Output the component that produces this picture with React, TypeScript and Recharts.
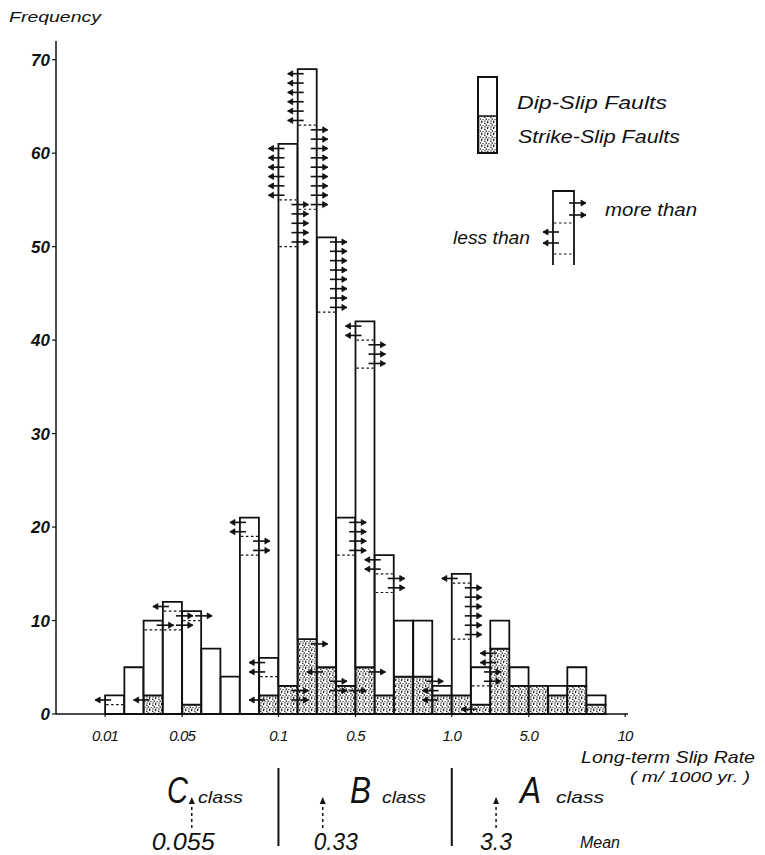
import { BarChart, Bar, XAxis, YAxis, Legend } from 'recharts'

// bin edges of the slip-rate classes (m/1000 yr.)
const binEdges = [0.01, 0.02, 0.03, 0.04, 0.05, 0.06, 0.07, 0.08, 0.09, 0.1, 0.2, 0.3, 0.4, 0.5, 0.6, 0.7, 0.8, 0.9, 1, 2, 3, 4, 5, 6, 7, 8, 9, 10]

// frequency per bin: all faults, and the strike-slip part of it
const allFaults = [2, 5, 10, 12, 11, 7, 4, 21, 6, 61, 69, 51, 21, 42, 17, 10, 10, 3, 15, 5, 10, 5, 3, 3, 5, 2, 0]
const strikeSlip = [0, 0, 2, 0, 1, 0, 0, 0, 2, 3, 8, 5, 3, 5, 2, 4, 4, 2, 2, 1, 7, 3, 3, 2, 3, 1, 0]

// "less than" / "more than" faults (arrows) in each part
const dipLess = [1, 0, 0, 1, 0, 0, 0, 2, 2, 6, 6, 0, 0, 2, 2, 0, 0, 1, 1, 0, 0, 0, 0, 0, 0, 0, 0]
const dipMore = [0, 0, 1, 2, 1, 0, 0, 2, 0, 5, 9, 8, 4, 3, 2, 0, 0, 0, 6, 2, 0, 0, 0, 0, 0, 0, 0]
const strikeLess = [0, 0, 1, 0, 0, 0, 0, 0, 1, 0, 0, 1, 0, 0, 0, 0, 0, 1, 0, 1, 2, 0, 0, 0, 0, 0, 0]
const strikeMore = [0, 0, 0, 0, 0, 0, 0, 0, 0, 2, 1, 2, 1, 1, 0, 0, 1, 0, 0, 0, 0, 0, 0, 0, 0, 0, 0]

const xTickRates = [0.01, 0.05, 0.1, 0.5, 1, 5, 10]
const xTickLabels = ['0.01', '0.05', '0.1', '0.5', '1.0', '5.0', '10']
const yTicks = [0, 10, 20, 30, 40, 50, 60, 70]

const classLabels = ['C', 'B', 'A']
const classBounds = [0.1, 1]
const classMeans = [0.055, 0.33, 3.3]
const classMeanLabels = ['0.055', '0.33', '3.3']

const FONT = '"Liberation Sans", Arial, sans-serif'
const INK = '#111'

const W = 749
const H = 847
const margin = { top: 33, right: 129, bottom: 111, left: 8 }
const Y_AXIS_W = 40
const xDomain: [number, number] = [-2.55, 27.15]
const plotLeft = margin.left + Y_AXIS_W
const plotWidth = W - margin.left - margin.right - Y_AXIS_W

// position of a slip rate on the bin axis (bins are equal width)
function binPos(v: number) {
  for (let i = 0; i < binEdges.length - 1; i++) {
    if (v >= binEdges[i] - 1e-9 && v < binEdges[i + 1] - 1e-9) {
      return i + (v - binEdges[i]) / (binEdges[i + 1] - binEdges[i])
    }
  }
  return binEdges.length - 1
}
const px = (pos: number) => plotLeft + ((pos - xDomain[0]) / (xDomain[1] - xDomain[0])) * plotWidth

const xTicks = xTickRates.map(binPos)

const data = allFaults.map((total, i) => ({
  bin: i + 0.5,
  total,
  strike: strikeSlip[i],
  dip: total - strikeSlip[i],
  dipLess: dipLess[i],
  dipMore: dipMore[i],
  strikeLess: strikeLess[i],
  strikeMore: strikeMore[i],
}))

function Arrow({ from, to, y }: { from: number; to: number; y: number }) {
  const d = to > from ? 1 : -1
  return (
    <g>
      <line x1={from} y1={y} x2={to} y2={y} stroke={INK} strokeWidth={1.6} />
      <path d={`M${to - d * 5},${y - 3}L${to},${y}L${to - d * 5},${y + 3}Z`} fill={INK} stroke={INK} strokeWidth={0.8} />
    </g>
  )
}

function MarksShape(props: any) {
  const { x, y, width, height, payload } = props
  if (!payload || !payload.total || !(height > 0)) return <g />
  const u = height / payload.total
  const left = x
  const right = x + width
  const out: any[] = []
  const group = (top: number, less: number, more: number, span: number, dashed: boolean, key: string) => {
    for (let k = 0; k < less; k++) {
      out.push(<Arrow key={key + 'l' + k} from={left + 6} to={left - 10} y={y + (top + k + 0.5) * u} />)
    }
    for (let k = 0; k < more; k++) {
      out.push(<Arrow key={key + 'm' + k} from={right - 6} to={right + 11} y={y + (top + less + k + 0.5) * u} />)
    }
    if (dashed) {
      const levels = []
      if (less > 0 && less < span) levels.push(top + less)
      if (more > 0 && less + more < span) levels.push(top + less + more)
      levels.forEach((lv, j) => (
        out.push(
          <line key={key + 'd' + j} x1={left + 1} x2={right - 1} y1={y + lv * u} y2={y + lv * u}
            stroke={INK} strokeWidth={1.2} strokeDasharray="2.5 2.5" />
        )
      ))
    }
  }
  group(0, payload.dipLess, payload.dipMore, payload.dip, true, 'd')
  group(payload.dip, payload.strikeLess, payload.strikeMore, payload.strike, false, 's')
  return <g>{out}</g>
}

const txt = { fontFamily: FONT, fontStyle: 'italic' as const, fill: INK, lengthAdjust: 'spacingAndGlyphs' }

function LegendKey() {
  return (
    <svg width={300} height={220}>
      <rect x={30} y={48} width={19} height={37} fill="url(#stipple)" />
      <rect x={30} y={9} width={19} height={76} fill="none" stroke={INK} strokeWidth={2} />
      <line x1={30} x2={49} y1={48} y2={48} stroke={INK} strokeWidth={1.5} />
      <text x={69} y={41} fontSize={18} textLength={150} {...txt}>Dip-Slip  Faults</text>
      <text x={70} y={75} fontSize={18} textLength={162} {...txt}>Strike-Slip Faults</text>

      <path d="M105,197V123H126V197" fill="none" stroke={INK} strokeWidth={1.8} />
      <line x1={106} x2={125} y1={155} y2={155} stroke={INK} strokeWidth={1.2} strokeDasharray="2.5 2.5" />
      <line x1={106} x2={125} y1={186} y2={186} stroke={INK} strokeWidth={1.2} strokeDasharray="2.5 2.5" />
      <Arrow from={121} to={138} y={135} />
      <Arrow from={121} to={138} y={147} />
      <Arrow from={111} to={95} y={164} />
      <Arrow from={111} to={95} y={175} />
      <text x={157} y={148} fontSize={18} textLength={92} {...txt}>more  than</text>
      <text x={5} y={176} fontSize={18} textLength={77} {...txt}>less than</text>
    </svg>
  )
}

function Annotations() {
  const letterX = [159, 342, 512]
  const classX = [190, 374, 548]
  const classW = [45, 44, 48]
  const meanW = [63, 44, 32]
  const meanShift = [40, 9, 16]
  return (
    <svg width={W} height={H} style={{ position: 'absolute', left: 0, top: 0, pointerEvents: 'none' }}>
      <text x={1} y={14} fontSize={15} textLength={92} {...txt}>Frequency</text>
      <text x={573} y={755} fontSize={17} textLength={174} {...txt}>Long-term Slip Rate</text>
      <text x={622} y={774} fontSize={15} textLength={120} {...txt}>( m/ 1000 yr. )</text>

      {classBounds.map((b) => (
        <line key={b} x1={px(binPos(b))} x2={px(binPos(b))} y1={760} y2={838} stroke={INK} strokeWidth={2} />
      ))}
      {classLabels.map((c, i) => (
        <g key={c}>
          <text x={letterX[i]} y={795} fontSize={37} textLength={21} {...txt}>{c}</text>
          <text x={classX[i]} y={795} fontSize={17} textLength={classW[i]} {...txt}>class</text>
        </g>
      ))}
      {classMeans.map((m, i) => {
        const x = px(binPos(m))
        return (
          <g key={m}>
            <line x1={x} x2={x} y1={820} y2={795} stroke={INK} strokeWidth={1.5} strokeDasharray="3 3" />
            <path d={`M${x - 3},${796}L${x},${789}L${x + 3},${796}Z`} fill={INK} />
            <text x={x - meanShift[i]} y={842} fontSize={24} textLength={meanW[i]} {...txt}>
              {classMeanLabels[i]}
            </text>
          </g>
        )
      })}
      <text x={572} y={840} fontSize={16} textLength={40} {...txt}>Mean</text>
    </svg>
  )
}

export default function App() {
  return (
    <div style={{ position: 'relative', width: W, height: H, background: '#fff' }}>
      <BarChart width={W} height={H} data={data} margin={margin} barCategoryGap={0} barGap={0}>
        <defs>
          <pattern id="stipple" width="6" height="6" patternUnits="userSpaceOnUse">
            <rect width="6" height="6" fill="#fff" />
            <circle cx="0.8" cy="1.2" r="0.8" fill="#111" />
            <circle cx="3.6" cy="0.6" r="0.7" fill="#111" />
            <circle cx="2.2" cy="3.1" r="0.8" fill="#111" />
            <circle cx="5.0" cy="3.6" r="0.7" fill="#111" />
            <circle cx="1.0" cy="5.0" r="0.7" fill="#111" />
            <circle cx="3.8" cy="5.2" r="0.8" fill="#111" />
          </pattern>
        </defs>
        <XAxis
          dataKey="bin"
          type="number"
          domain={xDomain}
          ticks={xTicks}
          interval={0}
          tickFormatter={(v: number) => xTickLabels[xTicks.findIndex((p) => Math.abs(p - v) < 1e-6)] ?? ''}
          height={30}
          tickSize={3}
          tickMargin={13}
          axisLine={{ stroke: INK, strokeWidth: 1.5 }}
          tickLine={{ stroke: INK, strokeWidth: 1.2 }}
          tick={{ fontFamily: FONT, fontStyle: 'italic', fontSize: 15, fill: INK, letterSpacing: -0.8 }}
        />
        <XAxis xAxisId="marks" dataKey="bin" type="number" domain={xDomain} hide />
        <YAxis
          type="number"
          domain={[0, 72]}
          ticks={yTicks}
          interval={0}
          width={Y_AXIS_W}
          tickSize={4}
          tickMargin={2}
          axisLine={{ stroke: INK, strokeWidth: 1.5 }}
          tickLine={{ stroke: INK, strokeWidth: 1.2 }}
          tick={{ fontFamily: FONT, fontStyle: 'italic', fontWeight: 'bold', fontSize: 17, fill: INK }}
        />
        <Legend
          layout="vertical"
          align="center"
          verticalAlign="middle"
          content={() => <LegendKey />}
          wrapperStyle={{ left: 440, top: 60, width: 300, height: 220 }}
        />
        <Bar dataKey="strike" stackId="a" fill="url(#stipple)" stroke={INK} strokeWidth={1.8} isAnimationActive={false} />
        <Bar dataKey="dip" stackId="a" fill="#fff" stroke={INK} strokeWidth={1.8} isAnimationActive={false} />
        <Bar dataKey="total" xAxisId="marks" fill="none" shape={MarksShape} isAnimationActive={false} legendType="none" />
      </BarChart>
      <Annotations />
    </div>
  )
}
